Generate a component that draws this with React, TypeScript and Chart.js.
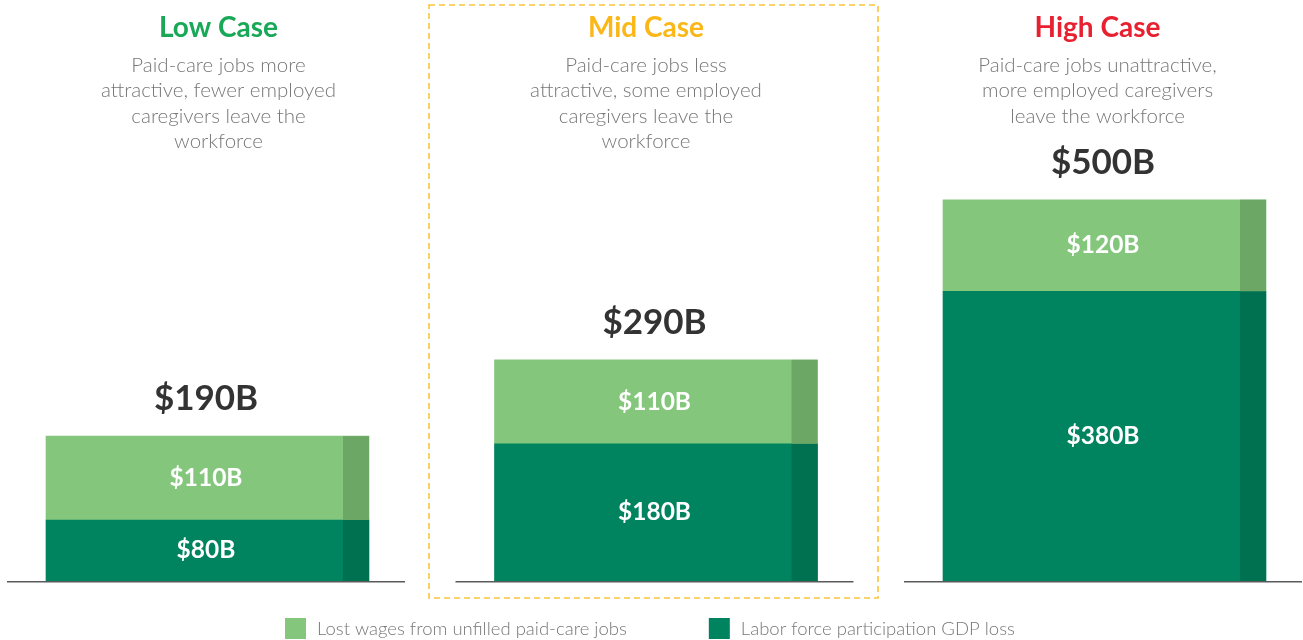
import React, { useEffect, useRef } from "react";
import { Chart, registerables } from "chart.js";

Chart.register(...registerables);

// ---- data ----
const categories = ["Low Case", "Mid Case", "High Case"];
const descriptions = [
  ["Paid-care jobs more", "attractive, fewer employed", "caregivers leave the", "workforce"],
  ["Paid-care jobs less", "attractive, some employed", "caregivers leave the", "workforce"],
  ["Paid-care jobs unattractive,", "more employed caregivers", "leave the workforce"],
];
const laborForceLoss = [80, 180, 380];
const lostWages = [110, 110, 120];
const totals = [190, 290, 500];
const seriesNames = ["Lost wages from unfilled paid-care jobs", "Labor force participation GDP loss"];

// ---- styles / layout ----
const LIGHT = "#84C77C";
const DARK = "#00845F";
const LIGHT_STRIP = "#6CA766";
const DARK_STRIP = "#007150";
const TITLE_COLORS = ["#19A857", "#FBB717", "#E8202F"];
const TEXT_SHIFT = [11, -10, -7];
const STRIP_W = 26;
const HIGHLIGHT_INDEX = 1;

const fmt = (v: number) => `$${v}B`;

const overlayPlugin = {
  id: "overlay",
  afterDatasetsDraw(chart: any) {
    const ctx = chart.ctx;
    const xs = chart.scales.x;
    const bottom = chart.chartArea.bottom;
    ctx.save();
    // darker side strips
    chart.data.datasets.forEach((ds: any, di: number) => {
      const meta = chart.getDatasetMeta(di);
      meta.data.forEach((el: any) => {
        const right = el.x + el.width / 2;
        ctx.fillStyle = ds.stripColor;
        ctx.fillRect(right - STRIP_W, Math.min(el.y, el.base), STRIP_W, Math.abs(el.base - el.y));
      });
    });
    // segment labels
    ctx.textAlign = "center";
    ctx.textBaseline = "middle";
    ctx.fillStyle = "#ffffff";
    ctx.font = "700 24.5px Lato";
    chart.data.datasets.forEach((ds: any, di: number) => {
      const meta = chart.getDatasetMeta(di);
      meta.data.forEach((el: any, i: number) => {
        const v = ds.data[i].y;
        ctx.fillText(fmt(v), el.x - 1.5, (el.y + el.base) / 2);
      });
    });
    // baselines
    categories.forEach((_, i) => {
      const cx = xs.getPixelForValue(i);
      ctx.fillStyle = "#5a5a5a";
      ctx.fillRect(cx - 200.5, bottom, 398, 1.5);
    });
    // totals
    const topMeta = chart.getDatasetMeta(chart.data.datasets.length - 1);
    ctx.fillStyle = "#333333";
    ctx.font = "700 35px Lato";
    totals.forEach((t, i) => {
      const el: any = topMeta.data[i];
      ctx.fillText(fmt(t), el.x - 1.5, el.y - 37);
    });
    // titles & descriptions
    categories.forEach((c, i) => {
      const cx = xs.getPixelForValue(i) + TEXT_SHIFT[i];
      ctx.fillStyle = TITLE_COLORS[i];
      ctx.font = "700 28px Lato";
      ctx.fillText(c, cx, 28);
      ctx.fillStyle = "#777777";
      ctx.font = "300 20.5px Lato";
      descriptions[i].forEach((line, j) => {
        ctx.fillText(line, cx, 65 + j * 25.5);
      });
    });
    // dashed highlight box
    const hx = xs.getPixelForValue(HIGHLIGHT_INDEX);
    ctx.strokeStyle = "#FCC43A";
    ctx.lineWidth = 1.6;
    ctx.setLineDash([6, 4]);
    ctx.strokeRect(hx - 227, 5, 449, 593);
    ctx.setLineDash([]);
    // legend
    ctx.textAlign = "left";
    ctx.font = "300 18.5px Lato";
    let lx = 285;
    const legendColors = [LIGHT, DARK];
    seriesNames.forEach((name, k) => {
      ctx.fillStyle = legendColors[k];
      ctx.fillRect(lx, 618, 21, 21);
      ctx.fillStyle = "#777777";
      ctx.fillText(name, lx + 32, 629);
      lx += 32 + ctx.measureText(name).width + 82;
    });
    ctx.restore();
  },
};

export default function App() {
  const ref = useRef<HTMLCanvasElement | null>(null);
  useEffect(() => {
    if (!ref.current) return;
    const chart = new Chart(ref.current, {
      type: "bar",
      data: {
        datasets: [
          {
            label: seriesNames[1],
            data: laborForceLoss.map((v, i) => ({ x: i, y: v })),
            backgroundColor: DARK,
            stripColor: DARK_STRIP,
            borderWidth: 0,
            barThickness: 323,
          } as any,
          {
            label: seriesNames[0],
            data: lostWages.map((v, i) => ({ x: i, y: v })),
            backgroundColor: LIGHT,
            stripColor: LIGHT_STRIP,
            borderWidth: 0,
            barThickness: 323,
          } as any,
        ],
      },
      options: {
        responsive: false,
        animation: false,
        layout: { padding: { top: 0, bottom: 59, left: 0, right: 0 } },
        plugins: { legend: { display: false }, tooltip: { enabled: false } },
        scales: {
          x: {
            type: "linear",
            display: false,
            stacked: true,
            offset: false,
            grid: { offset: false },
            min: -207.5 / 448.5,
            max: 2 + 198.5 / 448.5,
          },
          y: { display: false, stacked: true, min: 0, max: 762 },
        },
      },
      plugins: [overlayPlugin],
    });
    return () => chart.destroy();
  }, []);
  return (
    <div style={{ position: "absolute", left: 0, top: 0, width: 1303, height: 640, background: "#fff" }}>
      <canvas ref={ref} width={1303} height={640} style={{ display: "block" }} />
    </div>
  );
}
